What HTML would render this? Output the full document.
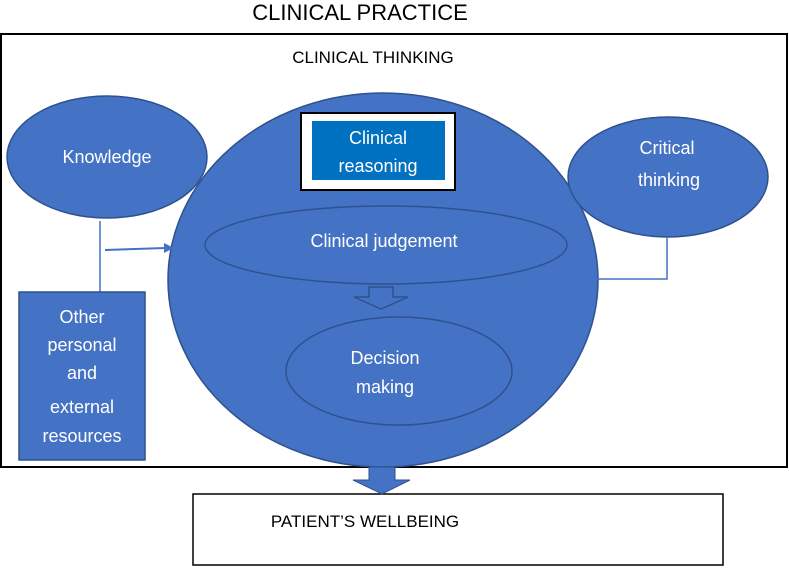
<!DOCTYPE html>
<html><head><style>
body{margin:0;width:789px;height:567px;background:#fff;overflow:hidden}
svg text{font-family:"Liberation Sans",sans-serif}
</style></head><body>
<svg width="789" height="567" viewBox="0 0 789 567">
<text x="360" y="20" font-size="22" text-anchor="middle" fill="#000">CLINICAL PRACTICE</text>
<rect x="1" y="34" width="786" height="433" fill="#fff" stroke="#000" stroke-width="2"/>
<text x="373" y="63" font-size="17" text-anchor="middle" fill="#000">CLINICAL THINKING</text>
<ellipse cx="107" cy="157" rx="100" ry="61" fill="#4472c4" stroke="#2f528f" stroke-width="1.5"/>
<text x="107" y="163" font-size="18" fill="#fff" text-anchor="middle">Knowledge</text>
<ellipse cx="383" cy="280" rx="215" ry="187" fill="#4472c4" stroke="#2f528f" stroke-width="1.5"/>
<rect x="301" y="113" width="154" height="77" fill="#fff" stroke="#000" stroke-width="2"/>
<rect x="312" y="121" width="133" height="59" fill="#0070c0"/>
<text x="378" y="144" font-size="18" fill="#fff" text-anchor="middle">Clinical</text>
<text x="378" y="172" font-size="18" fill="#fff" text-anchor="middle">reasoning</text>
<ellipse cx="386" cy="245" rx="181" ry="39" fill="#4472c4" stroke="#2f528f" stroke-width="1.5"/>
<text x="384" y="247" font-size="18" fill="#fff" text-anchor="middle">Clinical judgement</text>
<polygon points="369,287 393,287 393,297 408,297 381,309 354,297 369,297" fill="#4472c4" stroke="#2f528f" stroke-width="1.5"/>
<ellipse cx="399" cy="371" rx="113" ry="54" fill="#4472c4" stroke="#2f528f" stroke-width="1.5"/>
<text x="385" y="364" font-size="18" fill="#fff" text-anchor="middle">Decision</text>
<text x="385" y="393" font-size="18" fill="#fff" text-anchor="middle">making</text>
<ellipse cx="668" cy="177" rx="100" ry="60" fill="#4472c4" stroke="#2f528f" stroke-width="1.5"/>
<text x="667" y="154" font-size="18" fill="#fff" text-anchor="middle">Critical</text>
<text x="669" y="186" font-size="18" fill="#fff" text-anchor="middle">thinking</text>
<line x1="100" y1="221" x2="100" y2="292" stroke="#4472c4" stroke-width="1.5"/>
<line x1="105" y1="250" x2="166" y2="248" stroke="#4472c4" stroke-width="2"/>
<polygon points="174,248 164,243 164,253" fill="#4472c4"/>
<polyline points="667,238 667,279 594,279" fill="none" stroke="#4472c4" stroke-width="1.5"/>
<polygon points="585,279 595,274 595,284" fill="#4472c4"/>
<rect x="19" y="292" width="126" height="168" fill="#4472c4" stroke="#2f528f" stroke-width="1.5"/>
<text x="82" y="323" font-size="18" fill="#fff" text-anchor="middle">Other</text>
<text x="82" y="351" font-size="18" fill="#fff" text-anchor="middle">personal</text>
<text x="82" y="379" font-size="18" fill="#fff" text-anchor="middle">and</text>
<text x="82" y="413" font-size="18" fill="#fff" text-anchor="middle">external</text>
<text x="82" y="442" font-size="18" fill="#fff" text-anchor="middle">resources</text>
<rect x="193" y="494" width="530" height="71" fill="#fff" stroke="#000" stroke-width="1.5"/>
<polygon points="369,467 395,467 395,480 410,480 382,494 353,480 369,480" fill="#4472c4" stroke="#2f528f" stroke-width="1"/>
<text x="365" y="527" font-size="17" fill="#000" text-anchor="middle">PATIENT’S WELLBEING</text>
</svg>
</body></html>
